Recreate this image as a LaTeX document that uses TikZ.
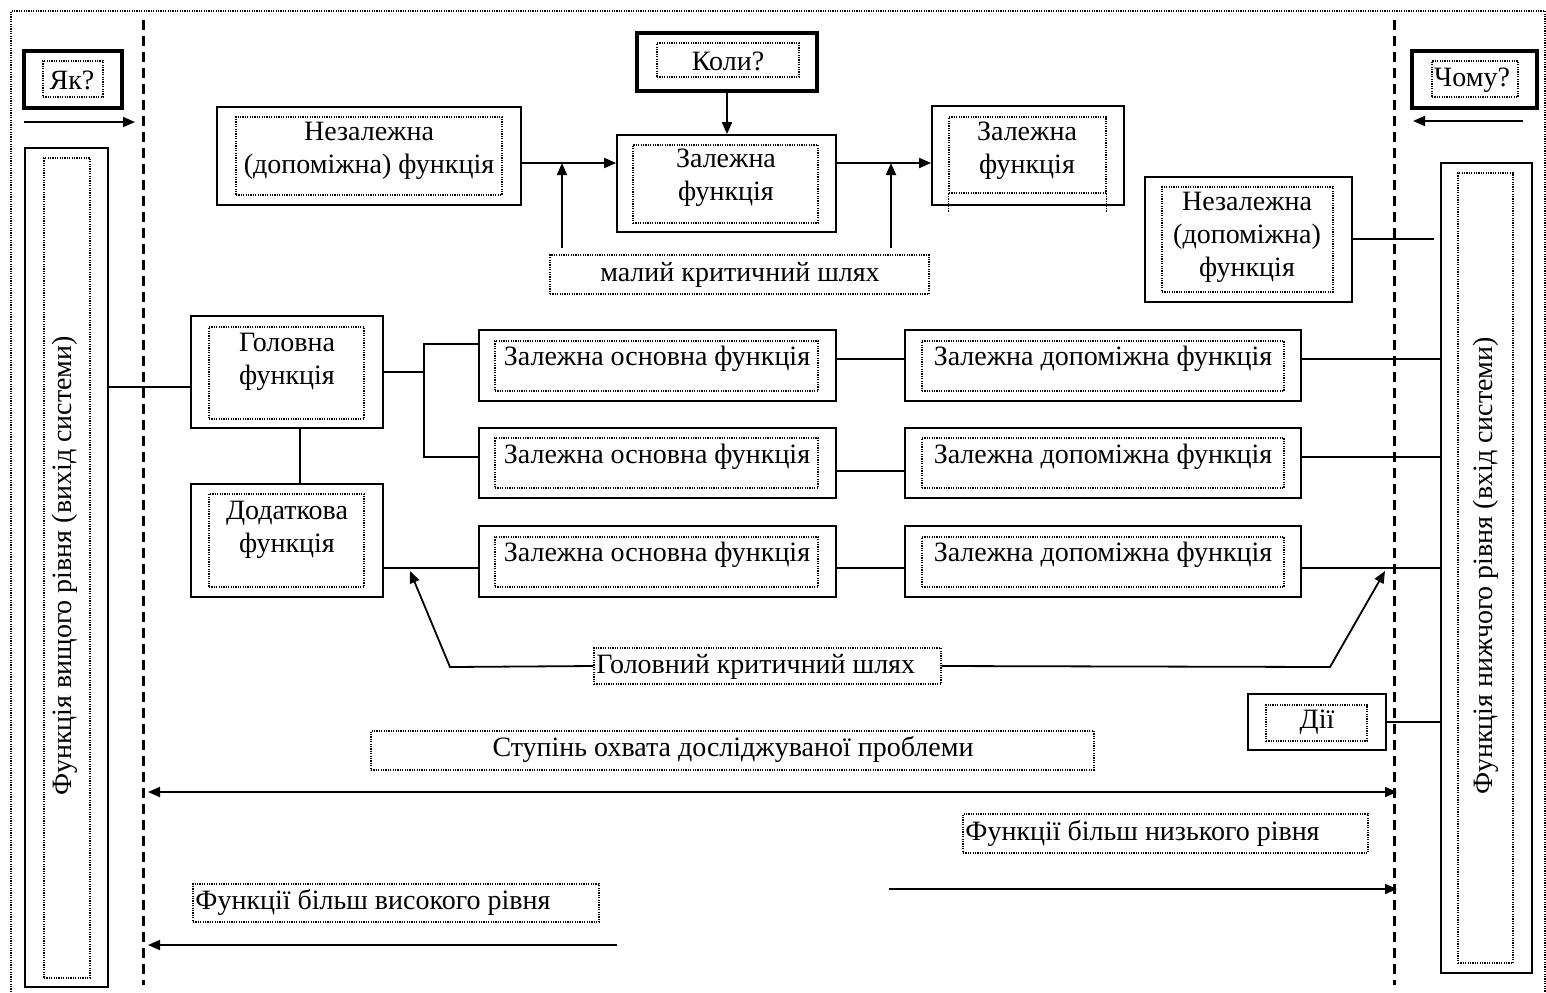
\documentclass[tikz,border=0pt]{standalone}
\usepackage{fontspec}
\setmainfont{Liberation Serif}
\usetikzlibrary{arrows.meta,fit}
\begin{document}
\begin{tikzpicture}[x=0.5pt,y=-0.5pt,
  box/.style={draw, line width=0.9pt, inner sep=0pt},
  bbox/.style={draw, line width=2pt, inner sep=0pt},
  dbox/.style={draw, line width=0.65pt, dash pattern=on 0.6pt off 0.6pt, inner sep=0pt},
  txt/.style={font=\fontsize{14}{16.5}\selectfont, align=center, inner sep=0pt},
  conn/.style={line width=0.9pt},
  arr/.style={conn, -{Triangle[length=6pt,width=5pt]}},
  darr/.style={conn, {Triangle[length=6pt,width=5pt]}-{Triangle[length=6pt,width=5pt]}},
  vdash/.style={line width=1.5pt, dash pattern=on 5pt off 3pt},
  frameline/.style={line width=0.65pt, dash pattern=on 0.6pt off 0.6pt}]
\useasboundingbox (0,0) rectangle (1546,992);
% outer frame
\draw[frameline] (11,992) -- (11,11) -- (1545,11) -- (1545,992);
% dashed vertical lines
\draw[vdash] (143,20) -- (143,985);
\draw[vdash] (1394,20) -- (1394,985);

% question boxes
\node[bbox, fit={(24,51)(122,108)}] (yakO) {};
\node[dbox, fit={(43,61)(103,97)}] (yakI) {};
\node[txt] (yakT) at (72,80) {Як?};
\node[bbox, fit={(637,33)(817,91)}] (kolyO) {};
\node[dbox, fit={(657,43)(799,77)}] (kolyI) {};
\node[txt] (kolyT) at (728,61) {Коли?};
\node[bbox, fit={(1412,51)(1537,108)}] (chomuO) {};
\node[dbox, fit={(1432,61)(1518,97)}] (chomuI) {};
\node[txt] (chomuT) at (1472,80) {Чому?};

% tall side boxes
\node[box, fit={(25,148)(108,987)}] (leftO) {};
\node[dbox, fit={(44,158)(90,978)}] (leftI) {};
\node[txt, rotate=90] (leftT) at (65,566) {Функція вищого рівня (вихід системи)};
\node[box, fit={(1441,163)(1532,973)}] (rightO) {};
\node[dbox, fit={(1458,173)(1513,963)}] (rightI) {};
\node[txt, rotate=90] (rightT) at (1486,566) {Функція нижчого рівня (вхід системи)};

% top row
\node[box, fit={(217,107)(521,205)}] (nezLO) {};
\node[dbox, fit={(236,117)(502,195)}] (nezLI) {};
\node[txt] (nezLT) at (369,151) {Незалежна\\(допоміжна) функція};
\node[box, fit={(617,135)(836,232)}] (zalCO) {};
\node[dbox, fit={(633,145)(818,223)}] (zalCI) {};
\node[txt] (zalCT) at (726,178) {Залежна\\функція};
\node[box, fit={(932,106)(1124,205)}] (zalRO) {};
\node[dbox, fit={(949,117)(1106,193)}] (zalRI) {};
\draw[frameline] (zalRI.south west) -- ++(0,19);
\draw[frameline] (zalRI.south east) -- ++(0,19);
\node[txt] (zalRT) at (1027,151) {Залежна\\функція};
\node[dbox, fit={(550,255)(929,294)}] (maliy) {};
\node[txt] (maliyT) at (740,275) {малий критичний шлях};
\node[box, fit={(1145,177)(1352,302)}] (nezRO) {};
\node[dbox, fit={(1162,187)(1333,292)}] (nezRI) {};
\node[txt] (nezRT) at (1247,237) {Незалежна\\(допоміжна)\\функція};

% main and additional
\node[box, fit={(191,316)(383,428)}] (holO) {};
\node[dbox, fit={(209,327)(364,419)}] (holI) {};
\node[txt] (holT) at (287,362) {Головна\\функція};
\node[box, fit={(191,484)(383,597)}] (dodO) {};
\node[dbox, fit={(209,494)(364,587)}] (dodI) {};
\node[txt] (dodT) at (287,530) {Додаткова\\функція};

% rows
\node[box, fit={(479,330)(836,401)}] (osn1O) {};
\node[dbox, fit={(495,341)(818,391)}] (osn1I) {};
\node[txt] (osn1T) at (657,359) {Залежна основна функція};
\node[box, fit={(479,428)(836,498)}] (osn2O) {};
\node[dbox, fit={(495,438)(818,488)}] (osn2I) {};
\node[txt] (osn2T) at (657,457) {Залежна основна функція};
\node[box, fit={(479,526)(836,597)}] (osn3O) {};
\node[dbox, fit={(495,537)(818,587)}] (osn3I) {};
\node[txt] (osn3T) at (657,555) {Залежна основна функція};
\node[box, fit={(905,330)(1301,401)}] (dop1O) {};
\node[dbox, fit={(922,341)(1284,391)}] (dop1I) {};
\node[txt] (dop1T) at (1103,359) {Залежна допоміжна функція};
\node[box, fit={(905,428)(1301,498)}] (dop2O) {};
\node[dbox, fit={(922,438)(1284,488)}] (dop2I) {};
\node[txt] (dop2T) at (1103,457) {Залежна допоміжна функція};
\node[box, fit={(905,526)(1301,597)}] (dop3O) {};
\node[dbox, fit={(922,537)(1284,587)}] (dop3I) {};
\node[txt] (dop3T) at (1103,555) {Залежна допоміжна функція};

% labels
\node[dbox, fit={(594,648)(941,684)}] (hks) {};
\node[txt, anchor=west] (hksT) at (596,667) {Головний критичний шлях};
\node[box, fit={(1248,694)(1386,750)}] (diiO) {};
\node[dbox, fit={(1266,705)(1367,741)}] (diiI) {};
\node[txt] (diiT) at (1317,722) {Дії};
\node[dbox, fit={(371,731)(1094,770)}] (stup) {};
\node[txt] (stupT) at (733,749) {Ступінь охвата досліджуваної проблеми};
\node[dbox, fit={(963,814)(1368,853)}] (nyzk) {};
\node[txt, anchor=west] (nyzkT) at (965,833) {Функції більш низького рівня};
\node[dbox, fit={(193,884)(599,922)}] (vys) {};
\node[txt, anchor=west] (vysT) at (195,902) {Функції більш високого рівня};

% helper coordinates
\coordinate (h163) at (0,163);
\coordinate (h239) at (0,239);
\coordinate (h387) at (0,387);
\coordinate (h372) at (0,372);
\coordinate (h359) at (0,359);
\coordinate (h471) at (0,471);
\coordinate (h457) at (0,457);
\coordinate (h344) at (0,344);
\coordinate (h568) at (0,568);
\coordinate (h722) at (0,722);
\coordinate (c300) at (300,0);
\coordinate (br) at (424,372);
\coordinate (m1) at (562,163);
\coordinate (m2) at (891,163);
\coordinate (m1s) at (562,248);
\coordinate (m2s) at (891,248);
\coordinate (yakA) at (24,122);
\coordinate (yakB) at (135,122);
\coordinate (chA) at (1523,121);
\coordinate (chB) at (1413,121);
\coordinate (nezRend) at (1434,239);
\coordinate (elL) at (450,667);
\coordinate (tipL) at (410,571);
\coordinate (elR) at (1330,667);
\coordinate (tipR) at (1385,571);
\coordinate (d1) at (148,792);
\coordinate (d2) at (1397,792);
\coordinate (n1) at (889,889);
\coordinate (n2) at (1397,889);
\coordinate (v1) at (617,945);
\coordinate (v2) at (148,945);

% connectors
\draw[arr] (yakA) -- (yakB);
\draw[arr] (chA) -- (chB);
\draw[arr] (kolyO.south) -- (kolyO.south |- zalCO.north);
\draw[arr] (nezLO.east |- h163) -- (zalCO.west |- h163);
\draw[arr] (zalCO.east |- h163) -- (zalRO.west |- h163);
\draw[arr] (m1s) -- (m1);
\draw[arr] (m2s) -- (m2);
\draw[conn] (nezRO.east |- h239) -- (nezRend);
\draw[conn] (leftO.east |- h387) -- (holO.west |- h387);
\draw[conn] (holO.east |- h372) -- (br);
\draw[conn] (osn1O.west |- h344) -- (br |- h344) -- (br |- h457) -- (osn2O.west |- h457);
\draw[conn] (holO.south -| c300) -- (dodO.north -| c300);
\draw[conn] (dodO.east |- h568) -- (osn3O.west |- h568);
\draw[conn] (osn1O.east |- h359) -- (dop1O.west |- h359);
\draw[conn] (osn2O.east |- h471) -- (dop2O.west |- h471);
\draw[conn] (osn3O.east |- h568) -- (dop3O.west |- h568);
\draw[conn] (dop1O.east |- h359) -- (rightO.west |- h359);
\draw[conn] (dop2O.east |- h457) -- (rightO.west |- h457);
\draw[conn] (dop3O.east |- h568) -- (rightO.west |- h568);
\draw[conn] (diiO.east |- h722) -- (rightO.west |- h722);
\draw[arr] (hks.west) -- (elL) -- (tipL);
\draw[arr] (hks.east) -- (elR) -- (tipR);
\draw[darr] (d1) -- (d2);
\draw[arr] (n1) -- (n2);
\draw[arr] (v1) -- (v2);
\end{tikzpicture}
\end{document}
